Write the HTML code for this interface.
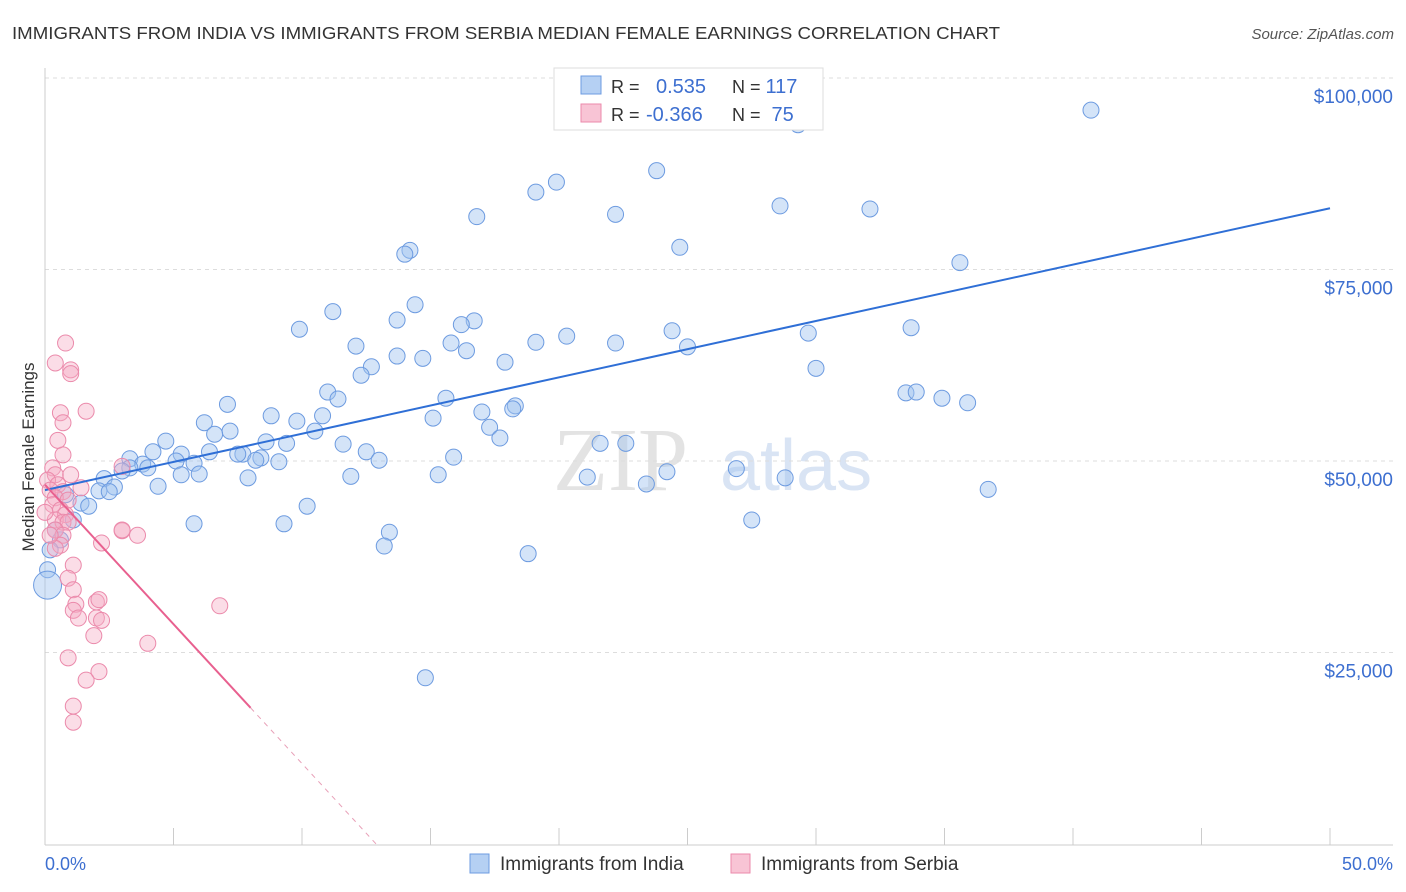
<!DOCTYPE html>
<html><head><meta charset="utf-8">
<style>
body{margin:0;background:#fff;font-family:"Liberation Sans",sans-serif;}
svg{display:block}
</style></head>
<body>
<svg id="chart" width="1406" height="892" xmlns="http://www.w3.org/2000/svg">
<text x="12" y="39" font-size="17.5" fill="#333" textLength="988" lengthAdjust="spacingAndGlyphs">IMMIGRANTS FROM INDIA VS IMMIGRANTS FROM SERBIA MEDIAN FEMALE EARNINGS CORRELATION CHART</text>
<text x="1394" y="39" font-size="15" fill="#555" text-anchor="end" font-style="italic">Source: ZipAtlas.com</text>
<g>
<text x="553" y="490" font-size="90" fill="#ddd" font-family="Liberation Serif,serif" opacity="0.8">ZIP</text>
<text x="720" y="490" font-size="72" fill="#c9d9f0" opacity="0.7">atlas</text>
</g>
<g id="grid"></g>
<g id="axes"></g>
<g id="marks"></g>
<text transform="translate(34,457) rotate(-90)" font-size="17" fill="#333" text-anchor="middle">Median Female Earnings</text>
<g>
<rect x="554" y="68" width="269" height="62" fill="#fff" stroke="#ddd"/>
<rect x="581" y="76" width="20" height="18" fill="#b5d0f3" stroke="#6d9be0"/>
<rect x="581" y="104" width="20" height="18" fill="#f8c4d5" stroke="#eb8aab"/>
<text x="611" y="93" font-size="18" fill="#333">R = <tspan fill="#3d6fd0" x="656" font-size="20">0.535</tspan><tspan x="732" fill="#333">N = </tspan><tspan fill="#3d6fd0" font-size="20">117</tspan></text>
<text x="611" y="121" font-size="18" fill="#333">R = <tspan fill="#3d6fd0" x="646" font-size="20">-0.366</tspan><tspan x="732" fill="#333">N = </tspan><tspan fill="#3d6fd0" dx="6" font-size="20">75</tspan></text>
</g>
<g>
<rect x="470" y="854" width="19" height="19" fill="#b5d0f3" stroke="#6d9be0"/>
<text x="500" y="870" font-size="19" fill="#333">Immigrants from India</text>
<rect x="731" y="854" width="19" height="19" fill="#f8c4d5" stroke="#eb8aab"/>
<text x="761" y="870" font-size="19" fill="#333">Immigrants from Serbia</text>
</g>
</svg>
<script>
const yTicks=[25000,50000,75000,100000];
const yTickLabels=["$25,000","$50,000","$75,000","$100,000"];
const xTickLabels=["0.0%","50.0%"];
const indiaX=[40.7,29.3,20.5,23.8,19.9,19.1,22.2,16.8,28.6,32.1,24.7,14.2,14.0,35.6,11.2,14.4,9.9,13.7,16.7,16.2,24.4,20.3,33.7,29.7,19.1,22.2,12.1,15.8,16.4,25.0,13.7,14.7,17.9,12.7,12.3,30.0,11.0,11.4,15.6,33.5,33.9,34.9,35.9,7.1,18.3,18.2,17.0,15.1,8.8,10.8,6.2,9.8,17.3,7.2,10.5,6.6,17.7,4.7,8.6,11.6,9.4,21.6,22.6,4.2,5.3,6.4,7.7,12.5,3.3,7.5,8.4,13.0,5.1,3.8,5.8,9.1,8.2,15.9,3.3,4.0,3.0,26.9,24.2,11.9,15.3,6.0,5.3,2.3,7.9,21.1,28.8,23.4,4.4,2.7,2.1,2.5,36.7,1.4,1.7,10.2,27.5,5.8,9.3,13.4,13.2,18.8,0.6,0.2,0.1,0.1,14.8,1.1,0.4,0.8];
const indiaY=[95.8,93.9,94.8,87.9,86.4,85.1,82.2,81.9,83.3,82.9,77.9,77.5,77.0,75.9,69.5,70.4,67.2,68.4,68.3,67.8,67.0,66.3,67.4,66.7,65.5,65.4,65.0,65.4,64.4,64.9,63.7,63.4,62.9,62.3,61.2,62.1,59.0,58.1,58.2,58.9,59.0,58.2,57.6,57.4,57.2,56.8,56.4,55.6,55.9,55.9,55.0,55.2,54.4,53.9,53.9,53.5,53.0,52.6,52.5,52.2,52.3,52.3,52.3,51.2,50.9,51.2,50.9,51.2,50.3,50.9,50.4,50.1,50.0,49.6,49.7,49.9,50.1,50.5,49.1,49.1,48.7,49.0,48.6,48.0,48.2,48.3,48.2,47.7,47.8,47.9,47.8,47.0,46.7,46.6,46.1,46.0,46.3,44.5,44.1,44.1,42.3,41.8,41.8,40.7,38.9,37.9,39.7,38.4,35.8,33.8,21.7,42.3,41.0,45.6];
const serbiaX=[0.8,0.4,1.0,1.0,1.6,0.6,0.7,0.3,0.4,1.0,0.1,0.5,0.2,0.7,0.4,0.9,0.3,0.6,0.8,0.4,0.7,0.9,0.4,0.7,3.0,3.6,3.0,0.6,2.2,0.4,1.1,0.9,1.1,2.0,2.1,1.2,1.1,1.3,2.0,2.2,1.9,4.0,6.8,0.9,2.1,1.6,1.1,1.1,0.7,1.4,0.0,0.2,3.0,0.5];
const serbiaY=[65.4,62.8,61.9,61.4,56.5,56.3,55.0,49.1,48.2,48.2,47.5,46.9,46.2,46.0,45.2,44.9,44.3,43.6,43.0,42.3,42.0,42.0,41.0,40.3,40.9,40.3,41.0,39.0,39.3,38.6,36.4,34.7,33.2,31.6,31.9,31.3,30.5,29.5,29.5,29.2,27.2,26.2,31.1,24.3,22.5,21.4,18.0,15.9,50.8,46.5,43.3,40.3,49.3,52.7];
const indiaTrend=[46.2,83.0];
const serbiaTrend=[46.9,-3.64];
const NS="http://www.w3.org/2000/svg";
const X=v=>45+v*25.7, Y=v=>844-v*7.66;
function mk(tag,attrs,parent){const e=document.createElementNS(NS,tag);for(const k in attrs)e.setAttribute(k,attrs[k]);document.getElementById(parent).appendChild(e);return e;}
yTicks.forEach((t,i)=>{
 const y=Y(t/1000);
 const l=mk('line',{x1:45,x2:1393,y1:y,y2:y,stroke:'#ddd','stroke-dasharray':'4,4'},'grid');
 
 
 const tx=mk('text',{x:1393,y:y+25,'font-size':19,fill:'#3d6fd0','text-anchor':'end'},'axes');
 tx.textContent=yTickLabels[i];
 
 
});
mk('line',{x1:45,x2:45,y1:68,y2:845,stroke:'#ccc'},'axes');
mk('line',{x1:45,x2:1393,y1:845,y2:845,stroke:'#ccc'},'axes');
for(let i=0;i<=10;i++){const x=X(i*5);const t=mk('line',{x1:x,x2:x,y1:828,y2:845,stroke:'#ccc'},'axes');
 
 }
const xl0=mk('text',{x:45,y:870,'font-size':18,fill:'#3d6fd0'},'axes');xl0.textContent=xTickLabels[0];


const xl1=mk('text',{x:1393,y:870,'font-size':18,fill:'#3d6fd0','text-anchor':'end'},'axes');xl1.textContent=xTickLabels[1];


indiaX.forEach((x,i)=>{const big=(i===indiaX.length-5);
 const c=mk('circle',{cx:X(x),cy:Y(indiaY[i]),r:big?14:8,fill:'rgba(160,195,240,0.45)',stroke:'#6d9be0','stroke-width':1},'marks');
 
 });
serbiaX.forEach((x,i)=>{
 const c=mk('circle',{cx:X(x),cy:Y(serbiaY[i]),r:8,fill:'rgba(245,170,195,0.4)',stroke:'#eb8aab','stroke-width':1},'marks');
 
 });
const bl=mk('line',{x1:X(0),y1:Y(indiaTrend[0]),x2:X(50),y2:Y(indiaTrend[1]),stroke:'#2f6fd6','stroke-width':2},'marks');


const sEnd=8, sZero=-serbiaTrend[0]/serbiaTrend[1];
const pl=mk('line',{x1:X(0),y1:Y(serbiaTrend[0]),x2:X(sEnd),y2:Y(serbiaTrend[0]+serbiaTrend[1]*sEnd),stroke:'#e8608f','stroke-width':2},'marks');


const pd=mk('line',{x1:X(sEnd),y1:Y(serbiaTrend[0]+serbiaTrend[1]*sEnd),x2:X(sZero),y2:Y(0),stroke:'#e8a0b8','stroke-width':1,'stroke-dasharray':'5,5'},'marks');


</script>
</body></html>
